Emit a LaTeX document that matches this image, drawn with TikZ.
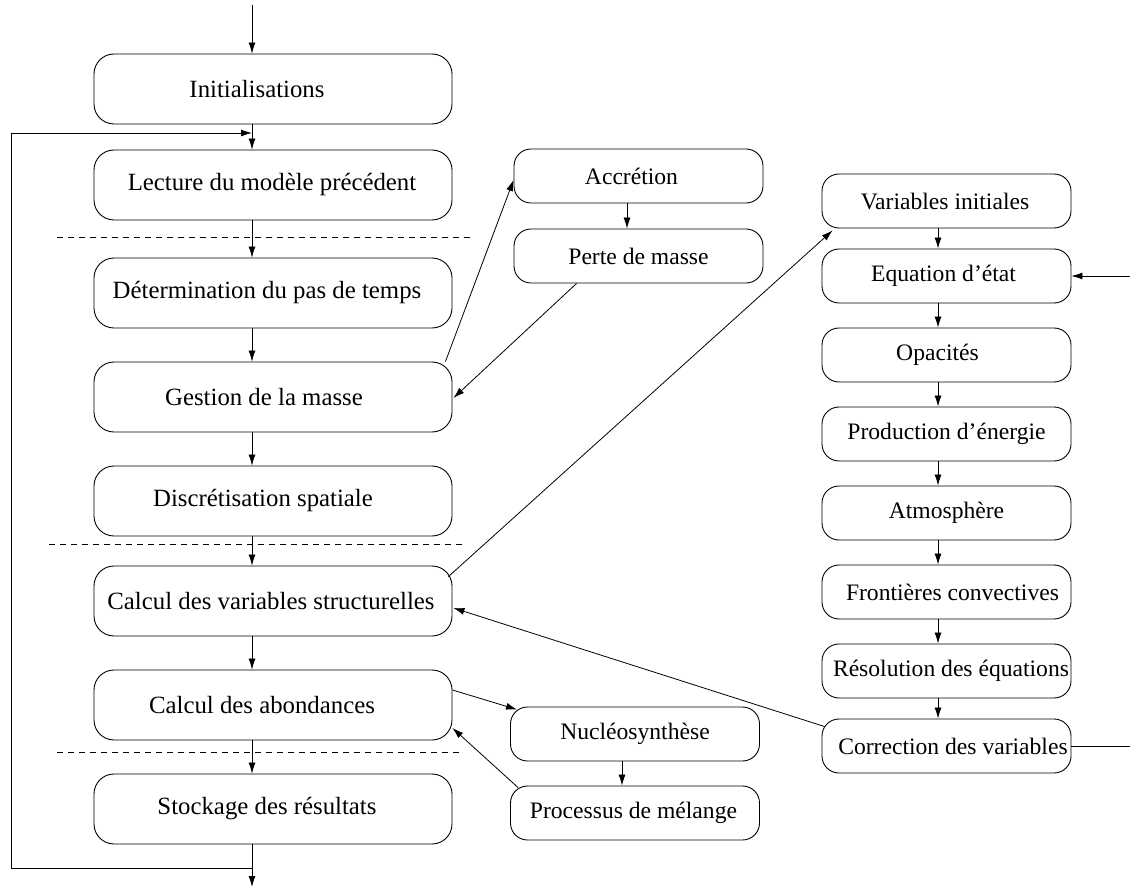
\documentclass[tikz,border=0pt]{standalone}
\usepackage{fontspec}
\setmainfont{Liberation Serif}
\usetikzlibrary{arrows.meta,calc}
\newcommand\mvtext[2]{\hspace*{#1}#2\hspace*{-#1}}
\begin{document}
\begin{tikzpicture}[x=1pt,y=-1pt,
 box/.style={draw, rounded corners=20pt, minimum width=358pt, minimum height=70pt, font=\fontsize{24.8}{28}\selectfont, inner sep=0pt, line width=0.9pt},
 sbox/.style={draw, rounded corners=17pt, minimum width=249pt, minimum height=54pt, font=\fontsize{23.6}{27}\selectfont, inner sep=0pt, line width=0.9pt},
 arr/.style={-{Latex[length=11pt,width=7pt]}, line width=0.8pt},
 ln/.style={line width=0.8pt},
 sep/.style={dash pattern=on 6pt off 5pt, line width=0.6pt}]
\useasboundingbox (0,0) rectangle (1130,890);
% left column
\node[box] (init) at (273,89) {\mvtext{-16pt}{Initialisations}};
\node[box] (lect) at (273,185) {\mvtext{-1pt}{Lecture du modèle précédent}};
\node[box] (det) at (273,293) {\mvtext{-6pt}{Détermination du pas de temps}};
\node[box] (gest) at (273,397) {\mvtext{-9pt}{Gestion de la masse}};
\node[box] (disc) at (273,501) {\mvtext{-10pt}{Discrétisation spatiale}};
\node[box] (cvs) at (273,601) {\mvtext{-2pt}{Calcul des variables structurelles}};
\node[box] (abon) at (273,705) {\mvtext{-11pt}{Calcul des abondances}};
\node[box] (stock) at (273,809) {\mvtext{-6pt}{Stockage des résultats}};
% middle column
\node[sbox] (accr) at (638.5,176) {\mvtext{-7pt}{Accrétion}};
\node[sbox] (perte) at (638.5,256) {Perte de masse};
\node[sbox] (nucl) at (635,734) {Nucléosynthèse};
\node[sbox] (proc) at (635,813) {\mvtext{-1.5pt}{Processus de mélange}};
% right column
\node[sbox] (vini) at (946.5,201) {\mvtext{-1.5pt}{Variables initiales}};
\node[sbox] (eos) at (946.5,276) {\mvtext{-3pt}{Equation d’état}};
\node[sbox] (opac) at (946.5,355) {\mvtext{-9pt}{Opacités}};
\node[sbox] (prod) at (946.5,434) {Production d’énergie};
\node[sbox] (atm) at (946.5,513) {Atmosphère};
\node[sbox] (front) at (946.5,592) {\mvtext{6pt}{Frontières convectives}};
\node[sbox] (reso) at (946.5,671) {\mvtext{4.5pt}{Résolution des équations}};
\node[sbox] (corr) at (946.5,746) {\mvtext{6.5pt}{Correction des variables}};
% helper coordinates
\coordinate (ax) at (252,0);
\coordinate (mx1) at (627,0);
\coordinate (mx2) at (622,0);
\coordinate (rx) at (938,0);
\coordinate (in) at (252,5);
\coordinate (out) at (252,887);
\coordinate (loopy) at (252,868);
\coordinate (lbl) at (11,868);
\coordinate (ltl) at (11,133);
\coordinate (ltr) at (252,133);
\coordinate (eosin) at (1130,276);
\coordinate (corrout) at (1130,746);
% dashed separators
\draw[sep] (57,237) -- (472,237);
\draw[sep] (49,544) -- (465,544);
\draw[sep] (57,752) -- (462,752);
% main flow
\draw[arr] (in) -- (init.north -| ax);
\draw[arr] (init.south -| ax) -- (lect.north -| ax);
\draw[arr] (lect.south -| ax) -- (det.north -| ax);
\draw[arr] (det.south -| ax) -- (gest.north -| ax);
\draw[arr] (gest.south -| ax) -- (disc.north -| ax);
\draw[arr] (disc.south -| ax) -- (cvs.north -| ax);
\draw[arr] (cvs.south -| ax) -- (abon.north -| ax);
\draw[arr] (abon.south -| ax) -- (stock.north -| ax);
\draw[arr] (stock.south -| ax) -- (out);
\draw[arr] (loopy) -- (lbl) -- (ltl) -- (ltr);
% middle flows
\draw[arr] (accr.south -| mx1) -- (perte.north -| mx1);
\draw[arr] (nucl.south -| mx2) -- (proc.north -| mx2);
\draw[arr] ($(gest.north east)+(-7,0)$) -- ($(accr.west)+(0,4)$);
\draw[arr] ($(perte.south west)+(63,0)$) -- ($(gest.east)+(1,1)$);
\draw[arr] ($(abon.east)+(0,-15)$) -- ($(nucl.north west)+(7,3)$);
\draw[arr] ($(proc.north west)+(8,2)$) -- ($(abon.east)+(0,23)$);
% right column flows
\draw[arr] (vini.south -| rx) -- (eos.north -| rx);
\draw[arr] (eos.south -| rx) -- (opac.north -| rx);
\draw[arr] (opac.south -| rx) -- (prod.north -| rx);
\draw[arr] (prod.south -| rx) -- (atm.north -| rx);
\draw[arr] (atm.south -| rx) -- (front.north -| rx);
\draw[arr] (front.south -| rx) -- (reso.north -| rx);
\draw[arr] (reso.south -| rx) -- (corr.north -| rx);
\draw[arr] ($(cvs.north east)+(-4,11)$) -- ($(vini.south west)+(11,2)$);
\draw[arr] ($(corr.north west)+(3,8)$) -- ($(cvs.east)+(1,7)$);
\draw[arr] (eosin) -- (eos.east);
\draw[ln] (corr.east) -- (corrout);
\end{tikzpicture}
\end{document}
